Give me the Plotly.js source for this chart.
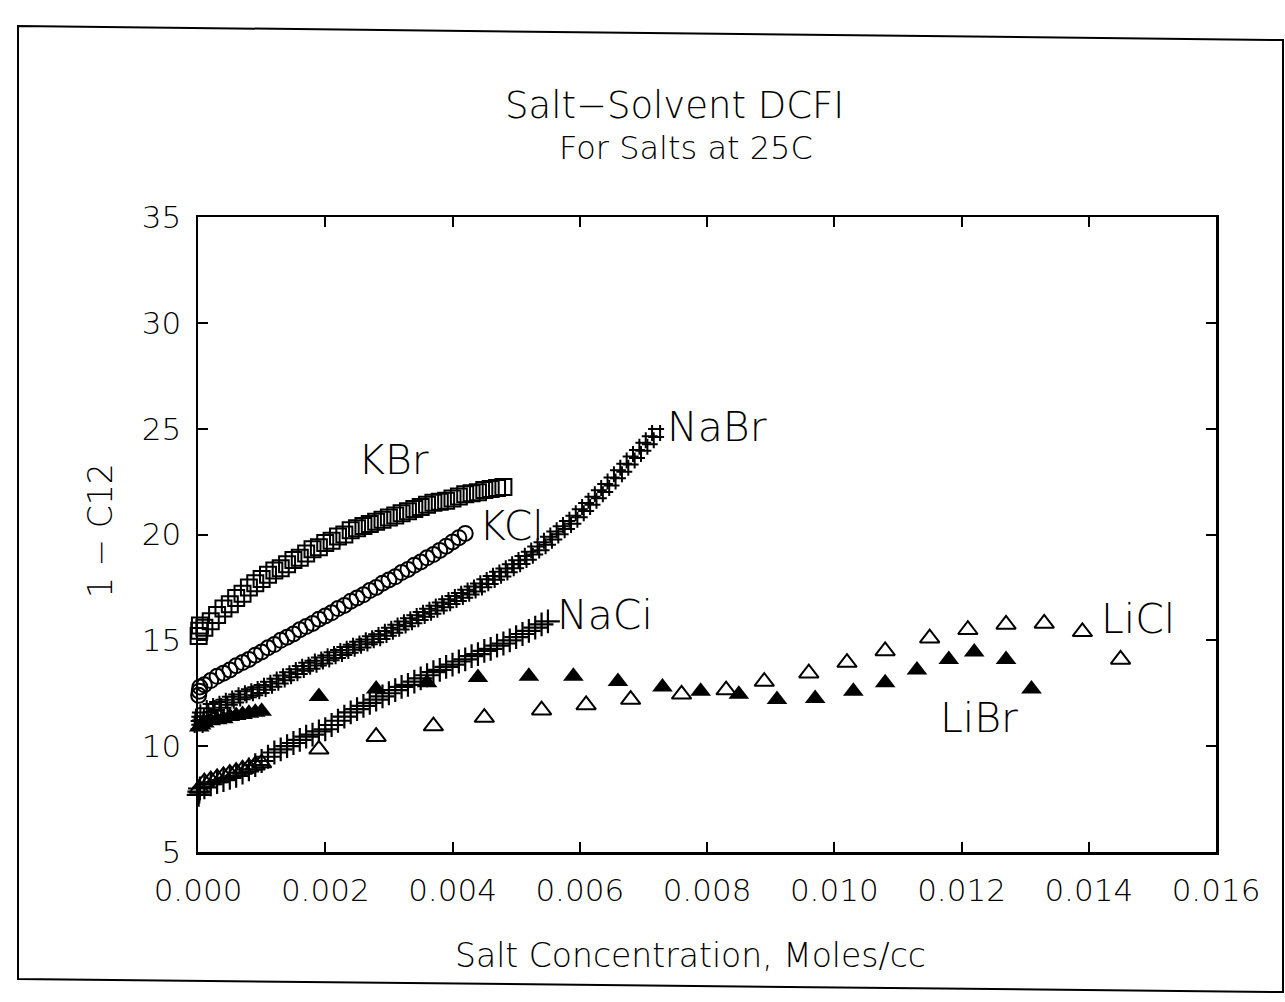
<!DOCTYPE html>
<html>
<head>
<meta charset="utf-8">
<script src="https://cdn.plot.ly/plotly-3.0.1.min.js"></script>
<style>
html,body{margin:0;padding:0;background:#fff;}
#chart{width:1285px;height:1002px;}
</style>
</head>
<body>
<div id="chart"></div>
<script>
// ---------------- DATA ----------------
const xTickVals = [0, 0.002, 0.004, 0.006, 0.008, 0.010, 0.012, 0.014, 0.016];
const xTickText = ['0.000','0.002','0.004','0.006','0.008','0.010','0.012','0.014','0.016'];
const yTickVals = [5, 10, 15, 20, 25, 30, 35];

const kbrX = [0.00001,0.00002,0.00003,0.0001,0.0002,0.0003,0.0004,0.0005,0.0006,0.0007,0.0008,0.0009,0.0010,0.0011,0.0012,0.0013,0.0014,0.0015,0.0016,0.0017,0.0018,0.0019,0.0020,0.0021,0.0022,0.0023,0.0024,0.0025,0.0026,0.0027,0.0028,0.0029,0.0030,0.0031,0.0032,0.0033,0.0034,0.0035,0.0036,0.0037,0.0038,0.0039,0.0040,0.0041,0.0042,0.0043,0.0044,0.0045,0.0046,0.0047,0.0048];
const kbrY = [15.2,15.45,15.7,15.6,15.9,16.2,16.5,16.7,17.0,17.2,17.5,17.7,17.9,18.1,18.3,18.4,18.6,18.8,18.9,19.1,19.3,19.4,19.6,19.7,19.9,20.0,20.2,20.3,20.4,20.5,20.6,20.7,20.8,20.9,21.0,21.1,21.2,21.3,21.4,21.5,21.55,21.6,21.7,21.8,21.9,21.95,22.0,22.1,22.15,22.2,22.25];

const kclX = [0.00001,0.00002,0.00003,0.0001,0.0002,0.0003,0.0004,0.0005,0.0006,0.0007,0.0008,0.0009,0.0010,0.0011,0.0012,0.0013,0.0014,0.0015,0.0016,0.0017,0.0018,0.0019,0.0020,0.0021,0.0022,0.0023,0.0024,0.0025,0.0026,0.0027,0.0028,0.0029,0.0030,0.0031,0.0032,0.0033,0.0034,0.0035,0.0036,0.0037,0.0038,0.0039,0.0040,0.0041,0.0042];
const kclY = [12.4,12.6,12.8,12.9,13.1,13.3,13.45,13.6,13.8,13.95,14.1,14.3,14.45,14.65,14.8,15.0,15.15,15.3,15.5,15.65,15.8,16.0,16.15,16.3,16.5,16.65,16.85,17.0,17.15,17.35,17.5,17.7,17.85,18.0,18.2,18.35,18.55,18.7,18.9,19.05,19.25,19.45,19.65,19.85,20.05];

const nabrX = [0.00001,0.00002,0.00003,0.0001,0.0002,0.0003,0.0004,0.0005,0.0006,0.0007,0.0008,0.0009,0.0010,0.0011,0.0012,0.0013,0.0014,0.0015,0.0016,0.0017,0.0018,0.0019,0.0020,0.0021,0.0022,0.0023,0.0024,0.0025,0.0026,0.0027,0.0028,0.0029,0.0030,0.0031,0.0032,0.0033,0.0034,0.0035,0.0036,0.0037,0.0038,0.0039,0.0040,0.0041,0.0042,0.0043,0.0044,0.0045,0.0046,0.0047,0.0048,0.0049,0.0050,0.0051,0.0052,0.0053,0.0054,0.0055,0.0056,0.0057,0.0058,0.0059,0.0060,0.0061,0.0062,0.0063,0.0064,0.0065,0.0066,0.0067,0.0068,0.0069,0.0070,0.0071,0.0072];
const nabrY = [11.0,11.2,11.4,11.6,11.8,11.9,12.0,12.15,12.25,12.4,12.5,12.6,12.7,12.85,13.0,13.15,13.3,13.45,13.6,13.75,13.85,14.0,14.1,14.25,14.35,14.5,14.6,14.75,14.85,15.0,15.1,15.25,15.4,15.55,15.7,15.85,16.0,16.15,16.3,16.45,16.6,16.75,16.9,17.05,17.2,17.35,17.5,17.7,17.85,18.05,18.2,18.4,18.6,18.8,19.0,19.25,19.45,19.7,19.95,20.2,20.45,20.7,21.0,21.3,21.6,21.9,22.2,22.5,22.85,23.15,23.5,23.8,24.15,24.45,24.8];

const naclX = [0.00001,0.00002,0.00003,0.0001,0.0002,0.0003,0.0004,0.0005,0.0006,0.0007,0.0008,0.0009,0.0010,0.0011,0.0012,0.0013,0.0014,0.0015,0.0016,0.0017,0.0018,0.0019,0.0020,0.0021,0.0022,0.0023,0.0024,0.0025,0.0026,0.0027,0.0028,0.0029,0.0030,0.0031,0.0032,0.0033,0.0034,0.0035,0.0036,0.0037,0.0038,0.0039,0.0040,0.0041,0.0042,0.0043,0.0044,0.0045,0.0046,0.0047,0.0048,0.0049,0.0050,0.0051,0.0052,0.0053,0.0054,0.0055];
const naclY = [7.7,7.85,8.0,8.05,8.2,8.3,8.4,8.5,8.6,8.75,8.9,9.1,9.3,9.5,9.7,9.85,10.0,10.15,10.3,10.45,10.55,10.7,10.8,11.0,11.2,11.4,11.6,11.75,11.9,12.05,12.2,12.35,12.5,12.65,12.8,12.9,13.05,13.2,13.35,13.5,13.6,13.75,13.85,14.0,14.1,14.25,14.35,14.5,14.6,14.75,14.85,15.0,15.15,15.3,15.45,15.6,15.75,15.9];

const liclX = [0.00002,0.0001,0.0002,0.0003,0.0004,0.0005,0.0006,0.0007,0.0008,0.0009,0.0010,0.0019,0.0028,0.0037,0.0045,0.0054,0.0061,0.0068,0.0076,0.0083,0.0089,0.0096,0.0102,0.0108,0.0115,0.0121,0.0127,0.0133,0.0139,0.0145];
const liclY = [8.0,8.3,8.4,8.5,8.6,8.7,8.8,8.9,9.0,9.1,9.2,9.85,10.45,10.95,11.35,11.7,11.95,12.2,12.45,12.65,13.05,13.45,13.95,14.5,15.1,15.5,15.75,15.8,15.4,14.1];

const librX = [0.00002,0.00005,0.0001,0.0002,0.0003,0.0004,0.0005,0.0006,0.0007,0.0008,0.0009,0.0010,0.0019,0.0028,0.0036,0.0044,0.0052,0.0059,0.0066,0.0073,0.0079,0.0085,0.0091,0.0097,0.0103,0.0108,0.0113,0.0118,0.0122,0.0127,0.0131];
const librY = [10.9,11.0,11.1,11.2,11.25,11.3,11.4,11.45,11.5,11.55,11.6,11.65,12.35,12.7,13.0,13.25,13.3,13.3,13.05,12.8,12.6,12.45,12.2,12.25,12.6,13.0,13.6,14.1,14.45,14.1,12.7];

const labels = ['KBr','KCl','NaBr','NaCi','LiCl','LiBr'];
const labelX = [0.00308,0.00492,0.00815,0.0064,0.01477,0.01227];
const labelY = [23.5,20.4,25.1,16.2,16.0,11.35];

// -------------- PLOT --------------
const FONT = 'DejaVu Sans';
const INK = '#000';
function mk(x, y, symbol, size, lw){
  return {x:x, y:y, type:'scatter', mode:'markers', cliponaxis:false, showlegend:false, hoverinfo:'skip',
    marker:{symbol:symbol, size:size, color:INK, line:{color:INK, width:lw}}};
}
const traces = [
  mk(kbrX, kbrY, 'square-open', 16, 2),
  mk(kclX, kclY, 'circle-open', 15, 2),
  mk(nabrX, nabrY, 'hash-open', 16, 2),
  mk(naclX, naclY, 'cross-thin-open', 17, 2.2),
  mk(liclX, liclY, 'triangle-up-open', 17, 2),
  mk(librX, librY, 'triangle-up', 18, 0)
];

const L = 198, R = 1216, T = 217, B = 852, W = 1285, H = 1002;
function P(px, py){ return [((px - L)/(R - L)).toFixed(4), ((B - py)/(B - T)).toFixed(4)]; }
const tl = P(18,26), tr = P(1283,40), br = P(1283,992), bl = P(18,979);
const framePath = 'M '+tl.join(' ')+' L '+tr.join(' ')+' L '+br.join(' ')+' L '+bl.join(' ')+' Z';

function F(size){ return {family:FONT, size:size, color:INK, weight:300}; }
const annotations = labels.map((t,i)=>({x:labelX[i], y:labelY[i], xref:'x', yref:'y', text:t, showarrow:false,
    xanchor:'center', yanchor:'middle', font:F(41)}));
function pa(px, py, text, size, angle){
  return {xref:'paper', yref:'paper', x:(px-L)/(R-L), y:(B-py)/(B-T), text:text, showarrow:false,
    xanchor:'center', yanchor:'middle', textangle:angle||0, font:F(size)};
}
annotations.push(pa(674, 105, 'Salt\u2212Solvent DCFI', 37));
annotations.push(pa(686, 148, 'For Salts at 25C', 32));
annotations.push(pa(690, 955, 'Salt Concentration, Moles/cc', 33));
annotations.push(pa(100, 531, '1 \u2212 C12', 33, -90));

const layout = {
  width:W, height:H, paper_bgcolor:'#fff', plot_bgcolor:'#fff',
  margin:{l:L, r:W-R, t:T, b:H-B, pad:0},
  font:{family:FONT, color:INK},
  xaxis:{range:[0,0.016], tickvals:xTickVals, ticktext:xTickText, ticks:'inside', ticklen:10, tickwidth:2, tickcolor:INK,
    showline:true, linewidth:2.5, linecolor:INK, mirror:'ticks', showgrid:false, zeroline:false,
    tickfont:F(31), ticklabelstandoff:9},
  yaxis:{range:[5,35], tickvals:yTickVals, ticks:'inside', ticklen:10, tickwidth:2, tickcolor:INK,
    showline:true, linewidth:2.5, linecolor:INK, mirror:'ticks', showgrid:false, zeroline:false,
    tickfont:F(31), ticklabelstandoff:8},
  annotations:annotations,
  shapes:[{type:'path', xref:'paper', yref:'paper', path:framePath, line:{color:INK, width:2}}]
};
Plotly.newPlot('chart', traces, layout, {displayModeBar:false, staticPlot:true});
</script>
</body>
</html>
